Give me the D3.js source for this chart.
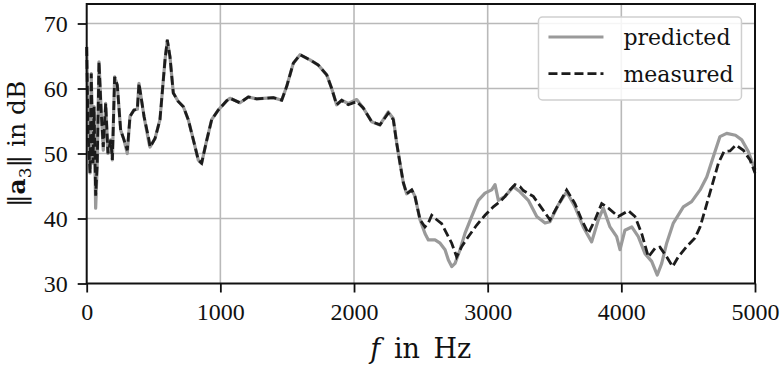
<!DOCTYPE html>
<html>
<head>
<meta charset="utf-8">
<script src="https://cdn.jsdelivr.net/npm/d3@7/dist/d3.min.js"></script>
<style>
  body { margin: 0; background: #fff; }
  text { font-family: "DejaVu Serif", serif; fill: #111; }
</style>
</head>
<body>
<div id="chart"></div>
<script>
// data (frequency in Hz, level in dB)
var measuredF = [0, 10, 25, 34, 47, 55, 67, 79, 92, 109, 124, 142, 159, 180, 192, 209, 229, 254, 279, 304,
  324, 354, 379, 391, 429, 466, 474, 511, 548, 586, 603, 623, 648, 685, 723, 760, 798, 835, 860, 893,
  935, 985, 1047, 1072, 1147, 1209, 1272, 1396, 1459, 1496, 1546, 1596, 1633, 1671, 1733, 1796, 1833, 1870, 1908, 1957,
  2020, 2069, 2132, 2194, 2256, 2294, 2320, 2344, 2369, 2394, 2432, 2456, 2494, 2531, 2556, 2581, 2619, 2656, 2693, 2731,
  2768, 2806, 2855, 2918, 2980, 3042, 3092, 3130, 3167, 3204, 3242, 3267, 3341, 3404, 3466, 3528, 3591, 3653, 3703, 3753,
  3803, 3853, 3903, 3977, 4052, 4102, 4152, 4202, 4252, 4289, 4339, 4384, 4426, 4489, 4551, 4589, 4626, 4676, 4726, 4768,
  4813, 4858, 4913, 4963, 5000];
var measuredDb = [66.4, 53.6, 47, 62.3, 48.5, 57.2, 43.5, 48.5, 64.1, 56.2, 51, 57.7, 50, 52.1, 49, 61.8, 60.5, 53.6, 52.1, 50.5,
  55.7, 56.7, 56.8, 60.8, 55.7, 52.1, 51, 52.3, 55.2, 64.4, 67.5, 64.9, 59.3, 58, 57.2, 55.2, 52.1, 49, 48.5, 51.6,
  55.2, 56.7, 58.1, 58.5, 57.8, 58.7, 58.4, 58.6, 58.2, 60.3, 63.9, 65.2, 64.8, 64.4, 63.6, 62.1, 60, 57.5, 58.2, 57.5,
  58, 57, 54.9, 54.4, 56.2, 55.2, 51.5, 48.5, 45.5, 43.8, 44.4, 43.4, 39.8, 38.7, 39.3, 40.5, 39.8, 39.2, 37.7, 36.2,
  34.1, 35.7, 37.2, 39, 40.5, 41.8, 42.6, 43.4, 44.4, 45.2, 44.9, 44.3, 43.4, 41.6, 39.8, 42.1, 44.4, 42.3, 39.8, 37.7,
  39.8, 42.3, 41.6, 40.3, 41.2, 40.3, 37.7, 34.1, 35.4, 35.6, 34.1, 32.6, 34.1, 35.7, 37, 38.7, 41.3, 44.9, 48.5, 50.3,
  50.4, 51.3, 50.5, 49, 47];

var predictedF = [0, 10, 25, 34, 47, 55, 67, 79, 92, 109, 124, 142, 159, 180, 192, 209, 229, 254, 279, 304,
  324, 354, 379, 391, 429, 466, 474, 511, 548, 586, 603, 623, 648, 685, 723, 760, 798, 835, 860, 893,
  935, 985, 1047, 1072, 1147, 1209, 1272, 1396, 1459, 1496, 1546, 1596, 1633, 1671, 1733, 1796, 1833, 1870, 1908, 1957,
  2020, 2069, 2132, 2194, 2256, 2294, 2320, 2344, 2369, 2394, 2432, 2456, 2494, 2531, 2556, 2606, 2644, 2681, 2706, 2731,
  2756, 2793, 2830, 2880, 2930, 2980, 3030, 3055, 3080, 3130, 3192, 3242, 3304, 3367, 3429, 3466, 3528, 3591, 3653, 3715,
  3778, 3828, 3865, 3915, 3965, 3990, 4027, 4078, 4127, 4177, 4227, 4269, 4302, 4339, 4389, 4464, 4526, 4589, 4639, 4688,
  4738, 4788, 4854, 4901, 4950, 5000];
var predictedDb = [66.4, 53.6, 47, 62.3, 48.5, 57.2, 41.6, 48.5, 64.1, 56.2, 50.5, 57.7, 50, 52.1, 49, 61.8, 60.5, 53.6, 52.1, 50,
  55.7, 56.7, 56.8, 60.8, 55.7, 51.6, 51, 52.3, 55.2, 64.4, 67.3, 64.9, 59.3, 58, 57.2, 55.2, 52.1, 49, 48.5, 51.6,
  55.2, 56.7, 58.1, 58.5, 57.8, 58.7, 58.4, 58.6, 58.2, 60.3, 63.9, 65.2, 64.8, 64.4, 63.6, 62.1, 60, 57.5, 58.2, 57.7,
  58.3, 57, 54.9, 54.4, 56.4, 55.4, 51.5, 48.5, 45.5, 43.8, 44.4, 43.4, 39.8, 37.7, 36.7, 36.7, 36.2, 35.2, 33.6, 32.6,
  33.1, 35.2, 37.7, 40.3, 42.8, 43.9, 44.4, 45.2, 42.8, 43.4, 44.9, 44.1, 42.8, 40.3, 39.3, 39.5, 42.1, 44.1, 41.8, 38.7,
  36.4, 39.8, 41.6, 38.7, 37.2, 35.2, 38.2, 38.7, 37.2, 34.6, 33.4, 31.3, 33.1, 36.2, 39.3, 41.8, 42.6, 44.4, 46.4, 49.5,
  52.6, 53.1, 52.8, 52.1, 50.3, 47.5];

var xTicks = [0, 1000, 2000, 3000, 4000, 5000];
var yTicks = [30, 40, 50, 60, 70];
var seriesNames = ["predicted", "measured"];

var W = 783, H = 367;
var margin = {top: 4, right: 28, bottom: 83.5, left: 86.7};
var width = W - margin.left - margin.right,
    height = H - margin.top - margin.bottom;

var x = d3.scaleLinear().domain([0, 5000]).range([0, width]);
var y = d3.scaleLinear().domain([30, 73]).range([height, 0]);

var svg = d3.select("#chart").append("svg")
  .attr("width", W)
  .attr("height", H)
  .append("g")
  .attr("transform", "translate(" + margin.left + "," + margin.top + ")");

// grid
svg.append("g").selectAll("line.gx")
  .data(xTicks.slice(1, -1)).enter().append("line")
  .attr("x1", function(d) { return x(d); }).attr("x2", function(d) { return x(d); })
  .attr("y1", 0).attr("y2", height)
  .attr("stroke", "#b9b9b9").attr("stroke-width", 1.6);
svg.append("g").selectAll("line.gy")
  .data(yTicks.slice(1)).enter().append("line")
  .attr("x1", 0).attr("x2", width)
  .attr("y1", function(d) { return y(d); }).attr("y2", function(d) { return y(d); })
  .attr("stroke", "#b9b9b9").attr("stroke-width", 1.6);

var line = d3.line()
  .x(function(d) { return x(d[0]); })
  .y(function(d) { return y(d[1]); });

var predicted = predictedF.map(function(f, i) { return [f, predictedDb[i]]; });
var measured = measuredF.map(function(f, i) { return [f, measuredDb[i]]; });

svg.append("path")
  .datum(predicted)
  .attr("d", line)
  .attr("fill", "none")
  .attr("stroke", "#9a9a9a")
  .attr("stroke-width", 3.2)
  .attr("stroke-linejoin", "round");

svg.append("path")
  .datum(measured)
  .attr("d", line)
  .attr("fill", "none")
  .attr("stroke", "#1c1c1c")
  .attr("stroke-width", 2.8)
  .attr("stroke-dasharray", "9,4");

// axes
var xAxis = svg.append("g")
  .attr("transform", "translate(0," + height + ")")
  .call(d3.axisBottom(x).tickValues(xTicks).tickSize(9).tickPadding(10).tickFormat(d3.format("d")));
var yAxis = svg.append("g")
  .call(d3.axisLeft(y).tickValues(yTicks).tickSize(9).tickPadding(10));

[xAxis, yAxis].forEach(function(a) {
  a.select(".domain").remove();
  a.selectAll("line").attr("stroke", "#111").attr("stroke-width", 1.8);
  a.selectAll("text").style("font-family", "Liberation Serif").style("font-size", "24px").attr("fill", "#111");
});
yAxis.selectAll("text").attr("dy", "0.34em");

// frame
svg.append("rect")
  .attr("width", width).attr("height", height)
  .attr("fill", "none").attr("stroke", "#111").attr("stroke-width", 2);

// axis labels
var xl = svg.append("text")
  .attr("x", width / 2)
  .attr("y", height + 74)
  .style("font-size", "27px")
  .style("word-spacing", "5px")
  .style("text-anchor", "middle");
xl.append("tspan").style("font-style", "italic").text("f");
xl.append("tspan").text(" in Hz");

var yl = svg.append("text")
  .attr("transform", "translate(" + (-62) + "," + (height / 2) + ") rotate(-90)")
  .style("font-size", "25px")
  .style("text-anchor", "middle");
yl.append("tspan").text("\u2016");
yl.append("tspan").style("font-weight", "bold").text("a");
yl.append("tspan").attr("dy", 6).style("font-size", "17px").text("3");
yl.append("tspan").attr("dy", -6).text("\u2016 in dB");

// legend
var legend = svg.append("g").attr("transform", "translate(" + (x(3380)) + ",13)");
legend.append("rect")
  .attr("width", 203).attr("height", 83).attr("rx", 4)
  .attr("fill", "#fff").attr("fill-opacity", 0.85)
  .attr("stroke", "#cfcfcf").attr("stroke-width", 1.5);
seriesNames.forEach(function(name, i) {
  var ly = 20 + i * 36.6;
  legend.append("line")
    .attr("x1", 10).attr("x2", 65).attr("y1", ly).attr("y2", ly)
    .attr("stroke", i === 0 ? "#9a9a9a" : "#1c1c1c")
    .attr("stroke-width", i === 0 ? 3.2 : 2.8)
    .attr("stroke-dasharray", i === 0 ? null : "9,4");
  legend.append("text")
    .attr("x", 85).attr("y", ly + 8)
    .style("font-size", "22px")
    .text(name);
});
</script>
</body>
</html>
